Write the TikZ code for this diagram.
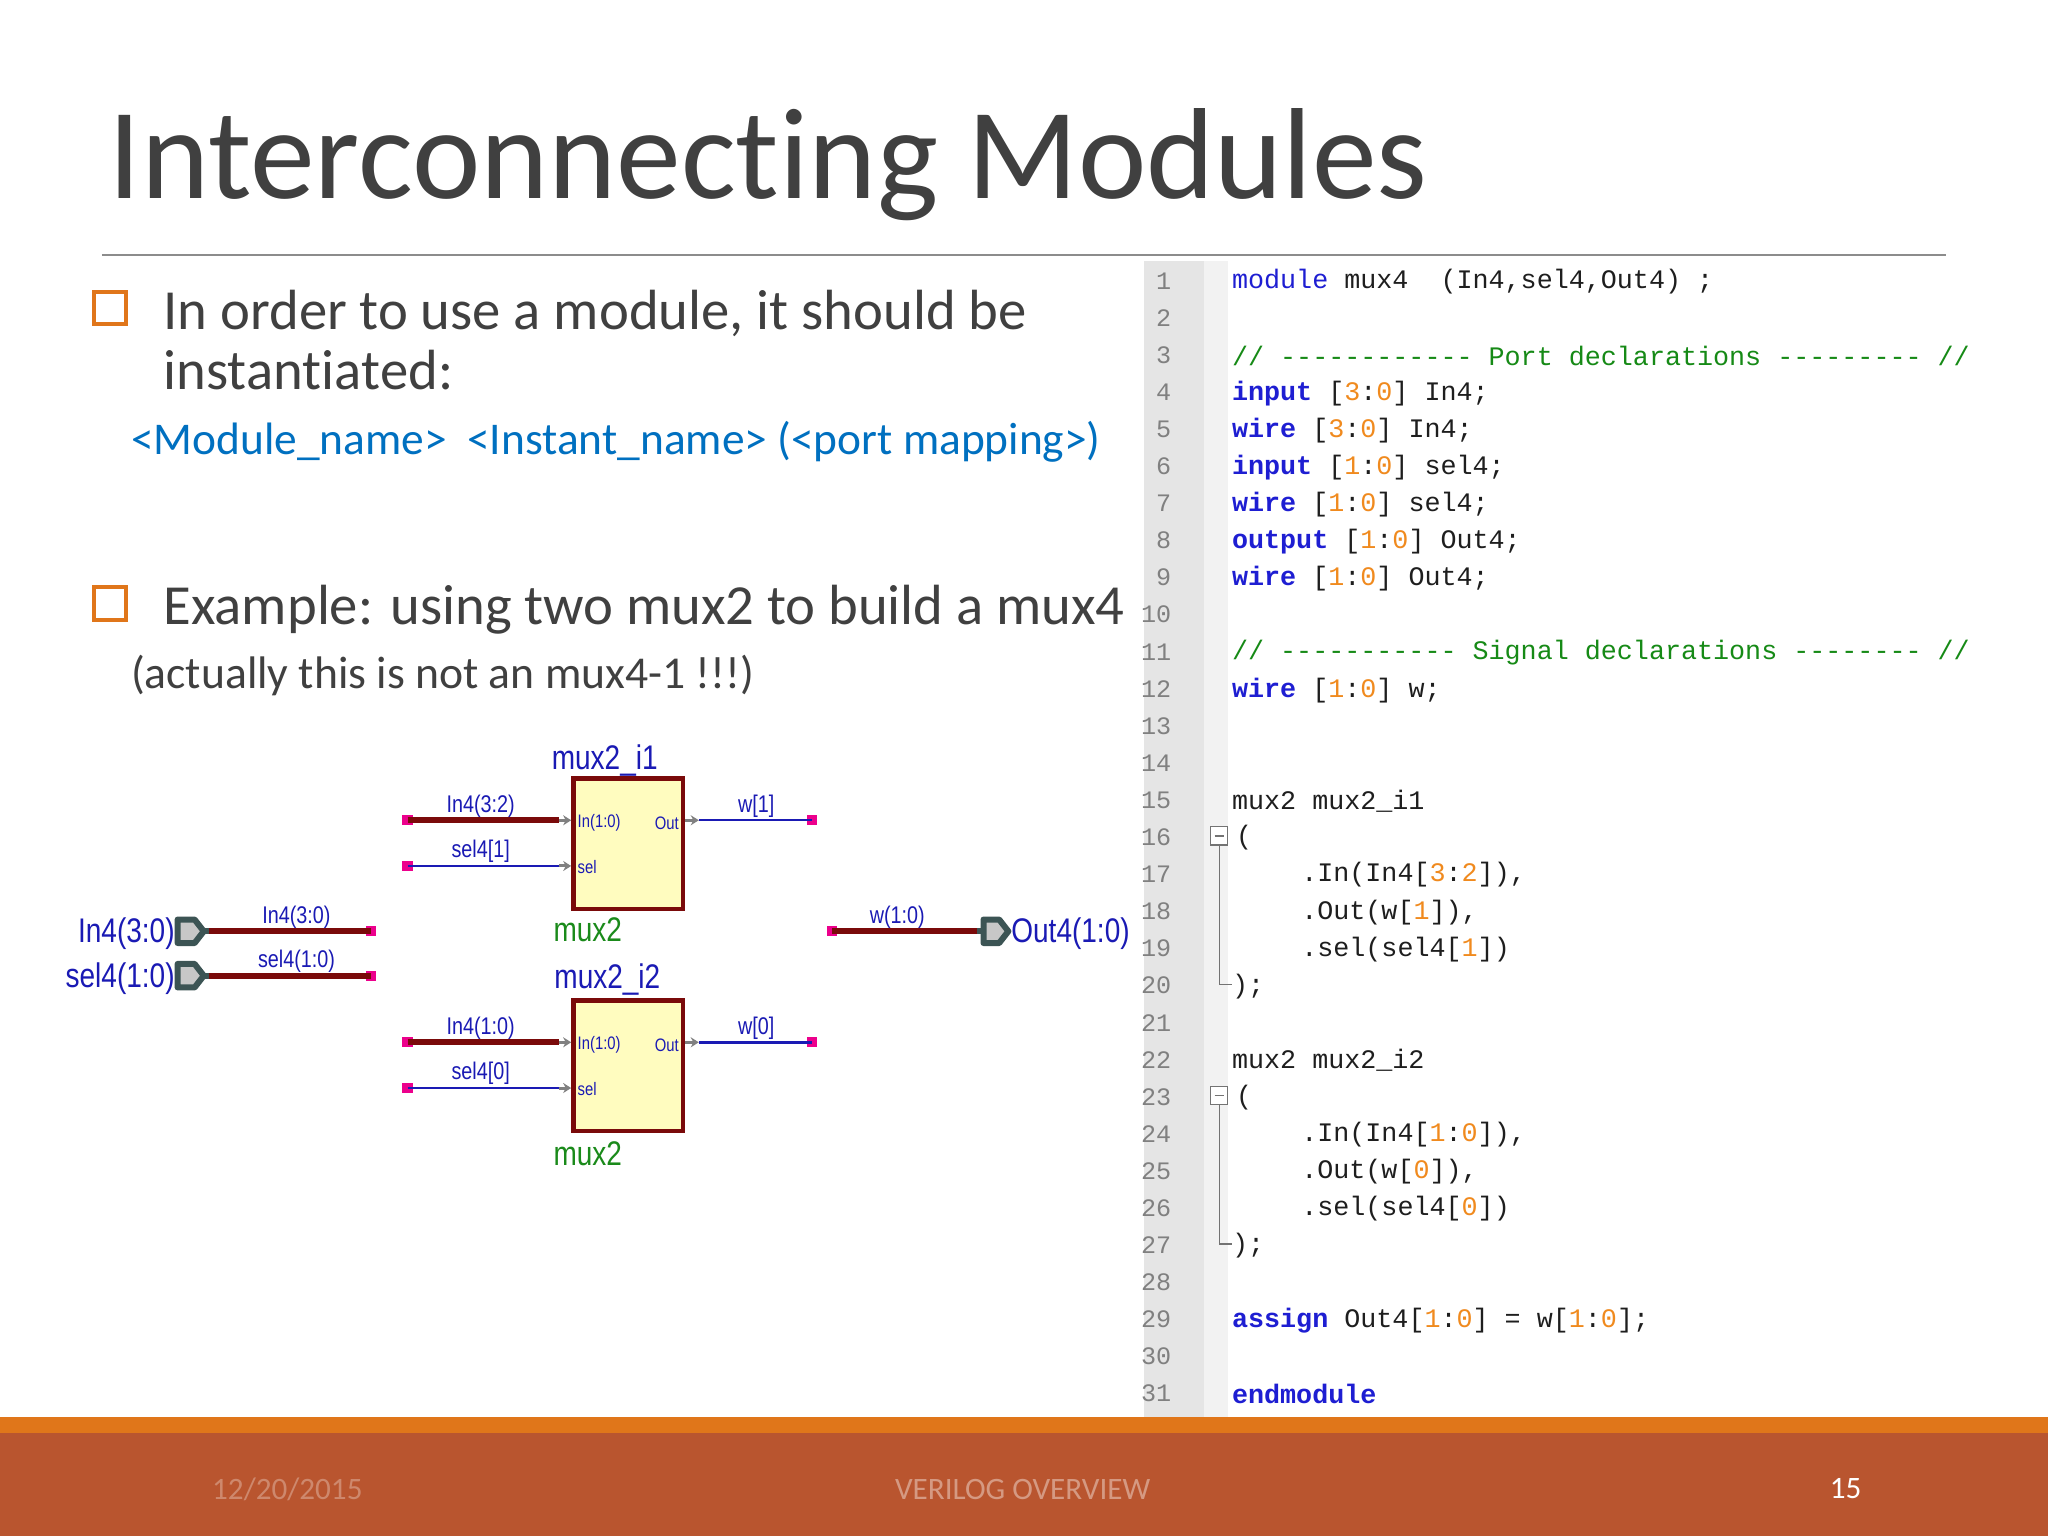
\documentclass[tikz,border=0pt]{standalone}
\usepackage{fontspec}
\setmainfont{Carlito}
\setmonofont{Liberation Mono}
\newfontfamily\schfont[FakeStretch=0.82]{Liberation Sans}
\usetikzlibrary{arrows.meta}
\definecolor{txt}{HTML}{404040}
\definecolor{kwc}{HTML}{1E1ED2}
\definecolor{numc}{HTML}{F08A1E}
\definecolor{cmc}{HTML}{168A16}
\definecolor{codec}{HTML}{1E1E1E}
\definecolor{bluet}{HTML}{0070C0}
\definecolor{orng}{HTML}{E0761A}
\definecolor{bar}{HTML}{B9552F}
\definecolor{wred}{HTML}{7A0A0A}
\definecolor{navy}{HTML}{1A1AB4}
\definecolor{sgreen}{HTML}{1A8A1A}
\definecolor{slate}{HTML}{3C5454}
\newcommand{\kw}[1]{\textcolor{kwc}{\bfseries #1}}
\newcommand{\nm}[1]{\textcolor{numc}{#1}}
\newcommand{\cmt}[1]{\textcolor{cmc}{#1}}
\newcommand{\nk}{\kern0pt }
\tikzset{
  x=0.65pt,y=-0.65pt,
  code/.style={anchor=west,inner sep=0,text=codec,font=\ttfamily\fontsize{13.3}{14}\selectfont},
  lnum/.style={anchor=east,inner sep=0,text=black!50,font=\ttfamily\fontsize{12.5}{14}\selectfont},
  sq/.style={fill=magenta,inner sep=0,minimum size=5pt},
  bus/.style={draw=wred,line width=3pt},
  sig/.style={draw=navy,line width=1.2pt},
  muxbox/.style={draw=wred,fill=yellow!25,line width=2.2pt,minimum width=54.6pt,minimum height=65pt,inner sep=0},
  slab/.style={text=navy,inner sep=0,font=\schfont\fontsize{12}{12}\selectfont},
  plab/.style={text=navy,inner sep=0,font=\schfont\fontsize{9}{9}\selectfont},
  inst/.style={text=navy,inner sep=0,font=\schfont\fontsize{17}{17}\selectfont},
  typ/.style={text=sgreen,inner sep=0,font=\schfont\fontsize{17}{17}\selectfont},
  port/.style={draw=slate,fill=black!22,line width=3pt,line join=round},
  pin/.style={draw=black!50,line width=1.5pt,-{Stealth[length=4pt,width=5pt]}},
  body/.style={anchor=base west,inner sep=0,text=txt,font=\fontsize{28.2}{34}\selectfont},
}
\begin{document}
\begin{tikzpicture}
\useasboundingbox (0,0) rectangle (1568,1176);
\fill[white] (0,0) rectangle (1568,1176);
% title
\node[anchor=base west,inner sep=0,text=txt,font=\fontsize{64.5}{70}\selectfont] (title) at (83,152) {Interconnect\nk ing Modules};
\draw[black!45,line width=0.8pt] (78,195) -- (1490,195);
% bullets
\node[draw=orng,line width=2pt,minimum size=16pt,inner sep=0] (b1) at (84,236) {};
\node[draw=orng,line width=2pt,minimum size=16pt,inner sep=0] (b2) at (84,462) {};
\node[body] (t1) at (125,252) {In order to use a module, it should be};
\node[body] (t2) at (125,298) {instant\nk iat\nk ed:};
\node[anchor=base west,inner sep=0,text=bluet,font=\fontsize{22.6}{26}\selectfont] (t3) at (100,348) {<Module\_name>~ <Instant\_name> (<port mapping>)};
\node[body] (t4) at (125,478) {Example: using two mux2 to build a mux4};
\node[anchor=base west,inner sep=0,text=txt,font=\fontsize{22.7}{28}\selectfont] (t5) at (100,527) {(actually this is not an mux4-1 !!!)};
% code panel
\fill[black!10] (876,200) rectangle (922,1085);
\fill[black!5] (922,200) rectangle (940,1085);
\foreach \n in {1,...,31}{
  \node[lnum] (ln\n) at (897,{215+(\n-1)*28.4}) {\n};
}
\begin{scope}[yshift=-1]
\node[code] (c1) at (943,214) {\textcolor{kwc}{module} mux4~ (In4,sel4,Out4) ;};
\node[code] (c3) at (943,271) {\cmt{// ------------ Port declarations --------- //}};
\node[code] (c4) at (943,299.6) {\kw{input} [\nm{3}:\nm{0}] In4;};
\node[code] (c5) at (943,328) {\kw{wire} [\nm{3}:\nm{0}] In4;};
\node[code] (c6) at (943,356.4) {\kw{input} [\nm{1}:\nm{0}] sel4;};
\node[code] (c7) at (943,384.8) {\kw{wire} [\nm{1}:\nm{0}] sel4;};
\node[code] (c8) at (943,413.2) {\kw{output} [\nm{1}:\nm{0}] Out4;};
\node[code] (c9) at (943,441.6) {\kw{wire} [\nm{1}:\nm{0}] Out4;};
\node[code] (c11) at (943,498.4) {\cmt{// ----------- Signal declarations -------- //}};
\node[code] (c12) at (943,526.8) {\kw{wire} [\nm{1}:\nm{0}] w;};
\node[code] (c15) at (943,611.6) {mux2 mux2\_i1};
\node[code] (c16) at (946,640) {(};
\node[code] (c17) at (996,668.4) {.In(In4[\nm{3}:\nm{2}]),};
\node[code] (c18) at (996,696.8) {.Out(w[\nm{1}]),};
\node[code] (c19) at (996,725.2) {.sel(sel4[\nm{1}])};
\node[code] (c20) at (943,753.6) {);};
\node[code] (c22) at (943,810.4) {mux2 mux2\_i2};
\node[code] (c23) at (946,838.8) {(};
\node[code] (c24) at (996,867.2) {.In(In4[\nm{1}:\nm{0}]),};
\node[code] (c25) at (996,895.6) {.Out(w[\nm{0}]),};
\node[code] (c26) at (996,924) {.sel(sel4[\nm{0}])};
\node[code] (c27) at (943,952.4) {);};
\node[code] (c29) at (943,1009.2) {\kw{assign} Out4[\nm{1}:\nm{0}] = w[\nm{1}:\nm{0}];};
\node[code] (c31) at (943,1066) {\kw{endmodule}};
\end{scope}
% fold markers
\foreach \a/\b in {640/753.6,838.8/952.4}{
  \draw[black!55,line width=0.6pt,fill=white] (927,\a-7) rectangle (940,\a+7);
  \draw[black!55,line width=0.6pt] (930,\a) -- (937,\a);
  \draw[black!55,line width=0.6pt] (933.5,\a+7) -- (933.5,\b) -- (943,\b);
}
% bottom bar
\fill[orng] (0,1085) rectangle (1568,1097);
\fill[bar] (0,1097) rectangle (1568,1176);
\node[text=bar!70!white,font=\fontsize{15.5}{16}\selectfont] (date) at (220,1140) {12/20/2015};
\node[text=bar!60!white,font=\fontsize{15.5}{16}\selectfont] (foot) at (783,1140) {VERILOG OVERVIEW};
\node[text=white,font=\fontsize{15.5}{16}\selectfont] (pg) at (1413,1140) {15};
% schematic: mux boxes
\node[muxbox] (m1) at (481,646) {};
\node[muxbox] (m2) at (481,816) {};
\node[inst] (m1i) at (463,582) {mux2\_i1};
\node[inst] (m2i) at (465,750) {mux2\_i2};
\node[typ] (m1t) at (450,712) {mux2};
\node[typ] (m2t) at (450,883) {mux2};
\foreach \m/\y/\lin/\lsel/\lw in {1/628/In4(3:2)/sel4[1]/w[1],2/798/In4(1:0)/sel4[0]/w[0]}{
  \node[sq] (qi\m) at (312,\y) {};
  \node[sq] (qs\m) at (312,\y+35) {};
  \node[sq] (qo\m) at (622,\y) {};
  \coordinate (pi\m) at (428,\y);
  \coordinate (ps\m) at (428,\y+35);
  \coordinate (po\m) at (535,\y);
  \draw[bus] (qi\m.center) -- (pi\m);
  \draw[sig] (qs\m.center) -- (ps\m);
  \draw[pin] (pi\m) -- (pi\m -| m\m.west);
  \draw[pin] (ps\m) -- (ps\m -| m\m.west);
  \draw[pin] (m\m.east |- po\m) -- (po\m);
  \draw[sig] (po\m) -- (qo\m.center);
  \node[slab] (li\m) at (368,\y-11) {\lin};
  \node[slab] (ls\m) at (368,\y+24) {\lsel};
  \node[slab] (lo\m) at (579,\y-11) {\lw};
  \node[plab,anchor=west] (pn\m) at (442,\y+2) {In(1:0)};
  \node[plab,anchor=east] (pq\m) at (520,\y+2) {Out};
  \node[plab,anchor=west] (pl\m) at (442,\y+36) {sel};
}
% top ports
\foreach \n/\y/\lab in {a/713/In4(3:0),b/747/sel4(1:0)}{
  \draw[port] (136,\y-9) -- (149,\y-9) -- (156,\y) -- (149,\y+9) -- (136,\y+9) -- cycle;
  \coordinate (pp\n) at (160,\y);
  \node[sq] (qq\n) at (284,\y) {};
  \draw[slate,line width=3pt] (156,\y) -- (pp\n);
  \draw[bus] (pp\n) -- (qq\n.center);
  \node[slab] (wl\n) at (227,\y-11) {\lab};
  \node[inst,anchor=east] (pl\n) at (134,\y+2) {\lab};
}
\node[sq] (qw) at (637,713) {};
\coordinate (pw) at (748,713);
\draw[bus] (qw.center) -- (pw);
\draw[port] (753,704) -- (765,704) -- (772,713) -- (765,722) -- (753,722) -- cycle;
\draw[slate,line width=3pt] (pw) -- (753,713);
\node[slab] (wlw) at (687,702) {w(1:0)};
\node[inst,anchor=west] (outl) at (774,715) {Out4(1:0)};
\end{tikzpicture}
\end{document}
